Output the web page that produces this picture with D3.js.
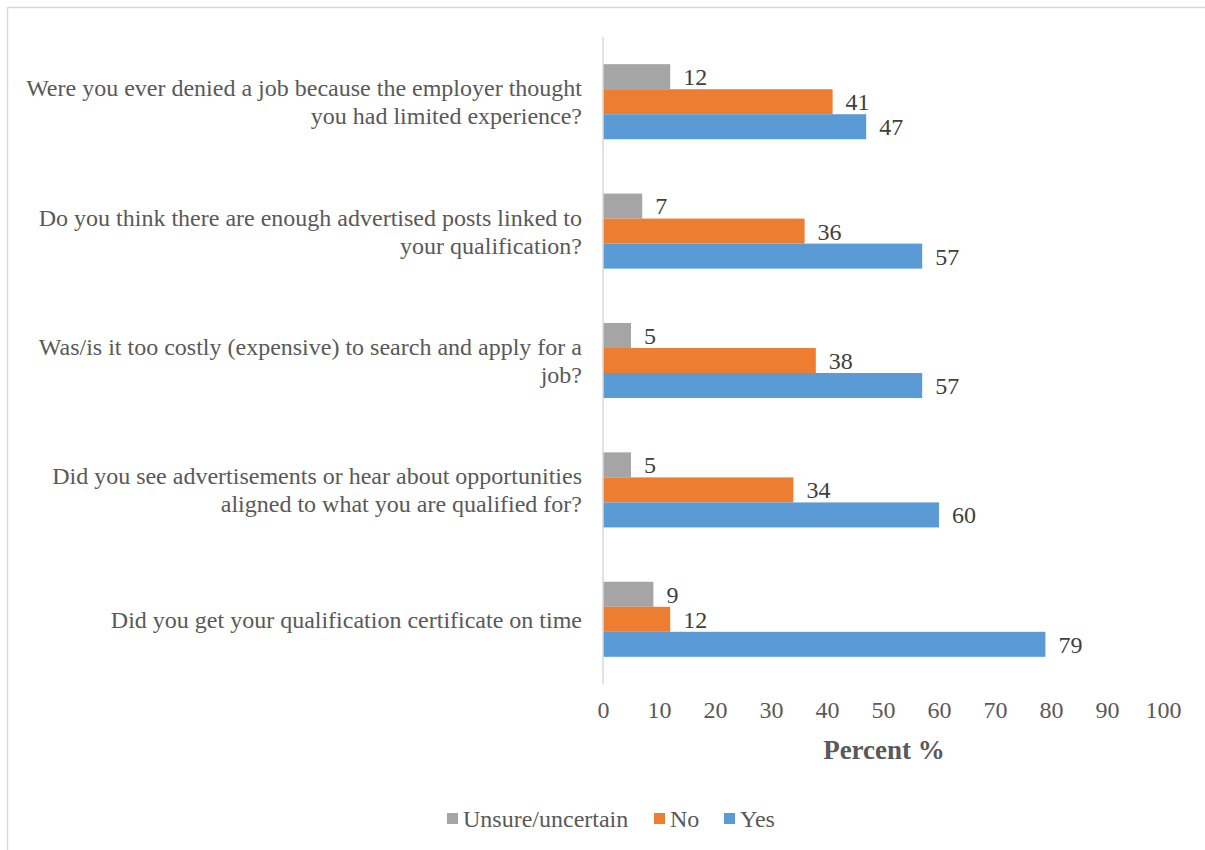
<!DOCTYPE html>
<html>
<head>
<meta charset="utf-8">
<script src="https://cdn.jsdelivr.net/npm/d3@7"></script>
<style>
  html, body { margin: 0; padding: 0; background: #fff; }
  svg { display: block; }
</style>
</head>
<body>
<svg id="chart" width="1205" height="850"></svg>
<script>
// Survey questions, top to bottom
const questions = [
  ["Were you ever denied a job because the employer thought", "you had limited experience?"],
  ["Do you think there are enough advertised posts linked to", "your qualification?"],
  ["Was/is it too costly (expensive) to search and apply for a", "job?"],
  ["Did you see advertisements or hear about opportunities", "aligned to what you are qualified for?"],
  ["Did you get your qualification certificate on time"]
];
const seriesNames = ["Unsure/uncertain", "No", "Yes"];
const unsureValues = [12, 7, 5, 5, 9];
const noValues = [41, 36, 38, 34, 12];
const yesValues = [47, 57, 57, 60, 79];
const xTicks = [0, 10, 20, 30, 40, 50, 60, 70, 80, 90, 100];
const colors = ["#A5A5A5", "#ED7D31", "#5B9BD5"];

(function () {
  const seriesValues = [unsureValues, noValues, yesValues];
  const svg = d3.select("#chart");
  const font = "'Liberation Serif', 'Times New Roman', serif";
  const fs = 24;

  // outer frame (clipped at right/bottom of the page)
  svg.append("rect")
    .attr("x", 7.5).attr("y", 7.5)
    .attr("width", 1205).attr("height", 860)
    .attr("fill", "none").attr("stroke", "#d9d9d9").attr("stroke-width", 1.5);

  const plotL = 603, plotR = 1163, plotT = 37, plotB = 684;
  const x = d3.scaleLinear().domain([0, 100]).range([plotL, plotR]);
  const y = d3.scaleBand().domain(d3.range(questions.length)).range([plotT, plotB]).paddingInner(0.42).paddingOuter(0.21);
  const ySub = d3.scaleBand().domain(d3.range(seriesNames.length)).range([0, y.bandwidth()]);

  // bars and value labels
  seriesValues.forEach((vals, s) => {
    const g = svg.append("g");
    g.selectAll("rect").data(vals).join("rect")
      .attr("x", x(0))
      .attr("y", (d, i) => y(i) + ySub(s))
      .attr("width", d => x(d) - x(0))
      .attr("height", ySub.bandwidth())
      .attr("fill", colors[s]);
    g.selectAll("text").data(vals).join("text")
      .attr("x", d => x(d) + 13)
      .attr("y", (d, i) => y(i) + ySub(s) + ySub.bandwidth() / 2)
      .attr("dy", "0.35em")
      .attr("font-family", font).attr("font-size", fs)
      .attr("fill", "#404040")
      .text(d => d);
  });

  // vertical category axis line
  svg.append("line")
    .attr("x1", plotL).attr("x2", plotL)
    .attr("y1", plotT).attr("y2", plotB)
    .attr("stroke", "#d9d9d9").attr("stroke-width", 1.5);

  // category labels
  questions.forEach((lines, i) => {
    const cy = y(i) + y.bandwidth() / 2;
    const lh = 28;
    const t = svg.append("text")
      .attr("text-anchor", "end")
      .attr("font-family", font).attr("font-size", fs)
      .attr("fill", "#595959");
    lines.forEach((ln, k) => {
      t.append("tspan")
        .attr("x", 582)
        .attr("y", cy + (k - (lines.length - 1) / 2) * lh)
        .attr("dy", "0.35em")
        .text(ln);
    });
  });

  // x axis tick labels
  const xAxis = d3.axisBottom(x).tickValues(xTicks).tickSize(0).tickPadding(0);
  const ax = svg.append("g").attr("transform", `translate(0, ${plotB + 17})`).call(xAxis);
  ax.select(".domain").remove();
  ax.selectAll("text")
    .attr("font-family", font).attr("font-size", fs)
    .attr("fill", "#595959");

  // axis title
  svg.append("text")
    .attr("x", (plotL + plotR) / 2 + 1).attr("y", 750)
    .attr("dy", "0.35em")
    .attr("text-anchor", "middle")
    .attr("font-family", font).attr("font-size", 27).attr("font-weight", "bold")
    .attr("fill", "#595959")
    .text("Percent %");

  // legend
  const legendX = [447, 654, 724];
  seriesNames.forEach((name, s) => {
    svg.append("rect")
      .attr("x", legendX[s]).attr("y", 813)
      .attr("width", 11).attr("height", 11)
      .attr("fill", colors[s]);
    svg.append("text")
      .attr("x", legendX[s] + 16).attr("y", 819)
      .attr("dy", "0.35em")
      .attr("font-family", font).attr("font-size", fs)
      .attr("fill", "#595959")
      .text(name);
  });
})();
</script>
</body>
</html>
